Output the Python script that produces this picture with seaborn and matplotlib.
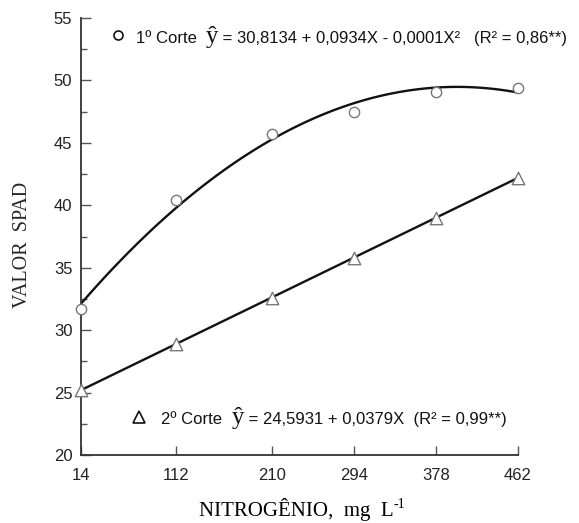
import numpy as np
import pandas as pd
import matplotlib
matplotlib.use("Agg")
import matplotlib.pyplot as plt
from matplotlib.transforms import IdentityTransform
from matplotlib.ticker import MultipleLocator
import seaborn as sns

# data
nitrogenio = [14, 112, 210, 294, 378, 462]
corte1 = [31.7, 40.4, 45.7, 47.5, 49.1, 49.4]
corte2 = [25.2, 28.9, 32.6, 35.8, 39.0, 42.2]

eq1 = " = 30,8134 + 0,0934X - 0,0001X²   (R² = 0,86**)"
eq2 = " = 24,5931 + 0,0379X  (R² = 0,99**)"

df1 = pd.DataFrame({"N": nitrogenio, "SPAD": corte1})
df2 = pd.DataFrame({"N": nitrogenio, "SPAD": corte2})

sns.set_style("white")
plt.rcParams["font.family"] = ["Liberation Sans", "DejaVu Sans"]

W, H = 579, 523
fig = plt.figure(figsize=(W / 100, H / 100), dpi=100)
left, right, top, bottom = 80.7, 517.7, 18, 455
ax = fig.add_axes([left / W, 1 - bottom / H, (right - left) / W, (bottom - top) / H])

line_kw = dict(color="#111111", lw=1.7)
sns.regplot(data=df1, x="N", y="SPAD", order=2, ci=None, scatter=False,
            truncate=True, line_kws=line_kw, ax=ax)
sns.regplot(data=df2, x="N", y="SPAD", order=1, ci=None, scatter=False,
            truncate=True, line_kws=line_kw, ax=ax)
sns.scatterplot(data=df1, x="N", y="SPAD", marker="o", s=55, color="white",
                edgecolor="#777777", linewidth=1.0, zorder=4, clip_on=False, ax=ax)
sns.scatterplot(data=df2, x="N", y="SPAD", marker="^", s=80, color="white",
                edgecolor="#777777", linewidth=1.0, zorder=4, clip_on=False, ax=ax)

ax.set_xlim(14, 462)
ax.set_ylim(20, 55)
ax.set_xticks(nitrogenio)
ax.set_yticks(range(20, 56, 5))
ax.yaxis.set_minor_locator(MultipleLocator(2.5))
ax.set_xlabel("")
ax.set_ylabel("")
sns.despine(ax=ax)
for s in ["left", "bottom"]:
    ax.spines[s].set_color("#333333")
    ax.spines[s].set_linewidth(1.3)
ax.tick_params(axis="y", which="major", direction="in", length=7, width=1.0,
               color="#555555", labelsize=12, pad=6, left=True)
ax.tick_params(axis="y", which="minor", direction="in", length=4, width=1.0,
               color="#555555", left=True)
ax.tick_params(axis="x", which="major", direction="in", length=6.5, width=1.0,
               color="#555555", labelsize=12, pad=9, bottom=True)
for lab in ax.get_xticklabels() + ax.get_yticklabels():
    lab.set_color("#222222")

fig.canvas.draw()
rend = fig.canvas.get_renderer()


def chain(pieces, x, y):
    for s, kw, dy in pieces:
        t = fig.text(x, y + dy, s, transform=IdentityTransform(), va="baseline", **kw)
        x = t.get_window_extent(rend).x1


# axis titles
fig.text(23, H - 245, "VALOR  SPAD", transform=IdentityTransform(), rotation=90,
         ha="center", va="center", fontsize=14.5, family="Liberation Serif")
lab = dict(fontsize=15, family="Liberation Serif", color="black")
sup = dict(fontsize=10, family="Liberation Serif", color="black")
chain([("NITROGÊNIO,  mg  L", lab, 0), ("-1", sup, 8)], 199, 7)

sans = dict(fontsize=12.0, family="Liberation Sans", color="#111111")
serif = dict(fontsize=18, family="Liberation Serif", color="#111111")

ax.plot([118], [H - 35], transform=IdentityTransform(), marker="o", ms=6.5,
        mfc="white", mec="#111111", mew=1.2, clip_on=False)
chain([("1º Corte  ", sans, 0), ("ŷ", serif, 0), (eq1, sans, 0)], 136, H - 43)

ax.plot([139], [H - 417], transform=IdentityTransform(), marker="^", ms=8,
        mfc="white", mec="#111111", mew=1.2, clip_on=False)
chain([("2º Corte  ", sans, 0), ("ŷ", serif, 0), (eq2, sans, 0)], 161, H - 424)

fig.savefig("out.png", dpi=100)
